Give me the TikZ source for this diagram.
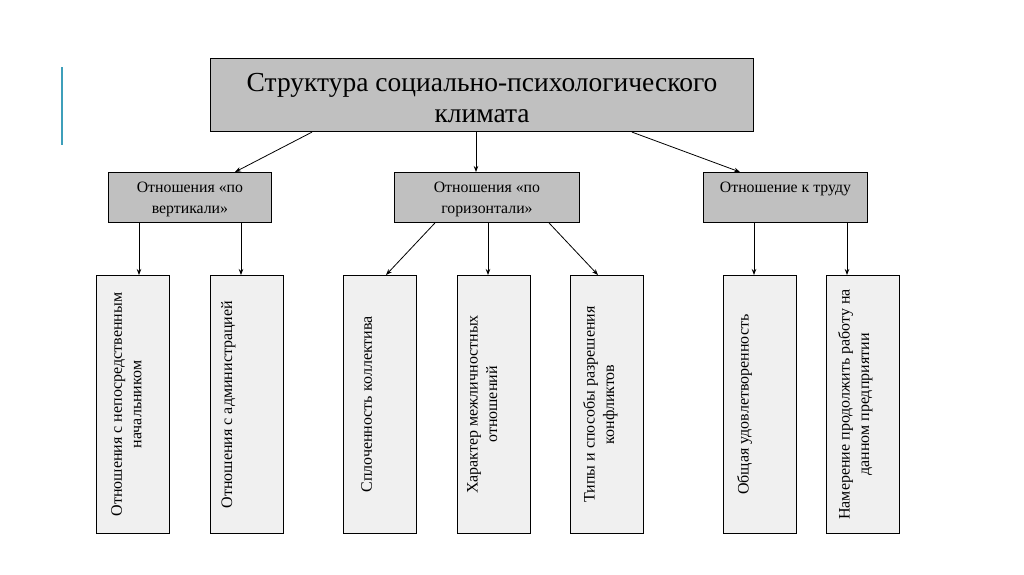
\documentclass[tikz,border=0pt]{standalone}
\usepackage{fontspec}
\setmainfont{Liberation Serif}
\usetikzlibrary{arrows.meta}
\definecolor{boxgray}{HTML}{C0C0C0}
\definecolor{boxlight}{HTML}{F0F0F0}
\definecolor{accent}{HTML}{3E9FBA}
\begin{document}
\begin{tikzpicture}[x=1pt,y=-1pt,
  topbox/.style={draw=black,line width=1.1pt,fill=boxgray,anchor=north west,inner sep=0},
  midbox/.style={draw=black,line width=0.9pt,fill=boxgray,anchor=north west,inner sep=0},
  leafbox/.style={draw=black,line width=0.9pt,fill=boxlight,anchor=north west,inner sep=0,minimum width=73pt,minimum height=258pt},
  toptext/.style={align=center,font=\fontsize{27.5}{31}\selectfont,inner sep=0},
  midtext/.style={align=center,font=\fontsize{15.8}{21}\selectfont,inner sep=0,anchor=north},
  leaftext/.style={align=center,font=\fontsize{16}{19.5}\selectfont,inner sep=0,rotate=90,anchor=north},
  arr/.style={-{Stealth[length=6pt,width=4.5pt]},line width=0.8pt}]
\useasboundingbox[fill=white] (0,0) rectangle (1024,574);
\draw[accent,line width=1.6pt] (62,67) -- (62,145);
% top
\node[topbox,minimum width=543pt,minimum height=73pt] (top) at (210,58) {};
\node[toptext] (toptxt) at ([yshift=-3pt]top.center) {Структура социально-психологического\\климата};
% middle
\node[midbox,minimum width=163pt,minimum height=50pt] (v) at (108,172) {};
\node[midbox,minimum width=185pt,minimum height=50pt] (h) at (394,172) {};
\node[midbox,minimum width=164pt,minimum height=50pt] (t) at (703,172) {};
\node[midtext] (vtxt) at ([yshift=-10pt]v.north) {Отношения «по\\вертикали»};
\node[midtext] (htxt) at ([yshift=-10pt]h.north) {Отношения «по\\горизонтали»};
\node[midtext] (ttxt) at ([yshift=-10pt]t.north) {Отношение к труду};
% leaves
\node[leafbox] (b1) at (96,275) {};
\node[leafbox] (b2) at (210,275) {};
\node[leafbox] (b3) at (343,275) {};
\node[leafbox] (b4) at (457,275) {};
\node[leafbox] (b5) at (570,275) {};
\node[leafbox] (b6) at (723,275) {};
\node[leafbox] (b7) at (826,275) {};
\node[leaftext] (b1t) at ([xshift=15pt]b1.west) {Отношения с непосредственным\\начальником};
\node[leaftext] (b2t) at ([xshift=11pt]b2.west) {Отношения с администрацией};
\node[leaftext] (b3t) at ([xshift=18pt]b3.west) {Сплоченность коллектива};
\node[leaftext] (b4t) at ([xshift=10pt]b4.west) {Характер межличностных\\отношений};
\node[leaftext] (b5t) at ([xshift=13pt]b5.west) {Типы и способы разрешения\\конфликтов};
\node[leaftext] (b6t) at ([xshift=14pt]b6.west) {Общая удовлетворенность};
\node[leaftext] (b7t) at ([xshift=12pt]b7.west) {Намерение продолжить работу на\\данном предприятии};
% connectors
\draw[arr] (top.south -| 312,0) -- (v.north -| 235,0);
\draw[arr] (top.south -| 476,0) -- (h.north -| 476,0);
\draw[arr] (top.south -| 632,0) -- (t.north -| 740,0);
\draw[arr] (v.south -| 139,0) -- (b1.north -| 139,0);
\draw[arr] (v.south -| 241,0) -- (b2.north -| 241,0);
\draw[arr] (h.south -| 435,0) -- (b3.north -| 386,0);
\draw[arr] (h.south -| 488,0) -- (b4.north -| 488,0);
\draw[arr] (h.south -| 549,0) -- (b5.north -| 598,0);
\draw[arr] (t.south -| 754,0) -- (b6.north -| 754,0);
\draw[arr] (t.south -| 847,0) -- (b7.north -| 847,0);
\end{tikzpicture}
\end{document}
